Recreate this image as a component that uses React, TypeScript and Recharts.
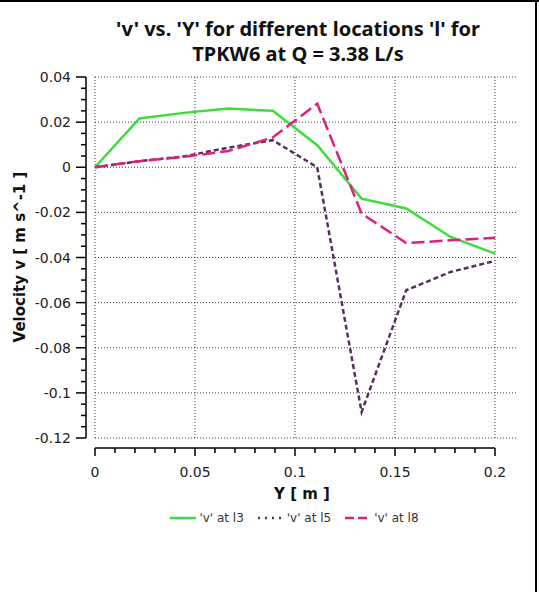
import React from 'react';
import { LineChart, Line, XAxis, YAxis, ReferenceLine, Legend } from 'recharts';

// Y position across the section [m]
const positions = [0, 0.0222, 0.0444, 0.0667, 0.0889, 0.1111, 0.1333, 0.1556, 0.1778, 0.2];
// v velocity [m/s] at locations l3, l5, l8
const vAtL3 = [0, 0.0216, 0.0241, 0.026, 0.025, 0.0098, -0.0139, -0.0183, -0.0309, -0.0383];
const vAtL5 = [0, 0.0027, 0.0048, 0.0087, 0.012, 0.0, -0.1085, -0.0545, -0.0464, -0.0415];
const vAtL8 = [0, 0.0027, 0.0046, 0.0072, 0.0132, 0.0282, -0.0205, -0.0336, -0.0324, -0.0313];

const xMajorTicks = [0, 0.05, 0.1, 0.15, 0.2];
const yMajorTicks = [0.04, 0.02, 0, -0.02, -0.04, -0.06, -0.08, -0.1, -0.12];
const xAllTicks = Array.from({ length: 21 }, (_, i) => +(i * 0.01).toFixed(3));
const yAllTicks = Array.from({ length: 33 }, (_, i) => +(-0.12 + i * 0.005).toFixed(3));

// axes sit a little away from the plot, grid runs a bit past 0.2
const X_MIN = -0.0045;
const X_MAX = 0.2115;
const Y_MIN = -0.12443;
const Y_MAX = 0.04;

const data = positions.map((y, i) => ({
  Y: y,
  l3: vAtL3[i],
  l5: vAtL5[i],
  l8: vAtL8[i],
}));

const TICK_FONT = 'DejaVu Sans';
const GRID = '#3a3a3a';

const isMajor = (v: number, step: number) => Math.abs(v / step - Math.round(v / step)) < 1e-6;

const XTick = ({ x, y, payload }: any) => {
  const major = isMajor(payload.value, 0.05);
  return (
    <g>
      <line x1={x} x2={x} y1={y} y2={y + (major ? 8 : 5)} stroke="#000" strokeWidth={1.5} />
      {major && (
        <text x={x} y={y + 29} textAnchor="middle" fontFamily={TICK_FONT} fontSize={14} fill="#222">
          {String(payload.value)}
        </text>
      )}
    </g>
  );
};

const YTick = ({ x, y, payload }: any) => {
  const major = isMajor(payload.value, 0.02);
  return (
    <g>
      <line x1={x - (major ? 10 : 5)} x2={x} y1={y} y2={y} stroke="#000" strokeWidth={1.5} />
      {major && (
        <text x={x - 15} y={y + 5} textAnchor="end" fontFamily={TICK_FONT} fontSize={14} fill="#222">
          {String(payload.value)}
        </text>
      )}
    </g>
  );
};

const renderLegend = (props: any) => (
  <div style={{ display: 'flex', justifyContent: 'center', alignItems: 'center', gap: 14 }}>
    {props.payload.map((entry: any) => (
      <span key={entry.value} style={{ display: 'flex', alignItems: 'center', fontFamily: TICK_FONT, fontSize: 12, color: '#333' }}>
        <svg width={26} height={8} style={{ marginRight: 3 }}>
          <line
            x1={0}
            x2={26}
            y1={4}
            y2={4}
            stroke={entry.color}
            strokeWidth={2.5}
            strokeDasharray={entry.payload?.legendDash}
          />
        </svg>
        {entry.value}
      </span>
    ))}
  </div>
);

export default function App() {
  return (
    <div style={{ position: 'relative', width: 539, height: 592, background: '#fff' }}>
      <style>{'body{margin:0}'}</style>
      <LineChart
        width={539}
        height={592}
        data={data}
        margin={{ top: 77, right: 21, bottom: 114, left: 26 }}
      >
        <XAxis
          dataKey="Y"
          type="number"
          domain={[X_MIN, X_MAX]}
          ticks={xAllTicks}
          interval={0}
          allowDataOverflow
          axisLine={false}
          tickLine={false}
          tickSize={0}
          tickMargin={0}
          height={30}
          tick={<XTick />}
        />
        <YAxis
          type="number"
          domain={[Y_MIN, Y_MAX]}
          ticks={yAllTicks}
          interval={0}
          allowDataOverflow
          axisLine={false}
          tickLine={false}
          tickSize={0}
          tickMargin={0}
          width={60}
          tick={<YTick />}
        />
        {yMajorTicks.map((v) => (
          <ReferenceLine
            key={`h${v}`}
            segment={[{ x: 0, y: v }, { x: X_MAX, y: v }]}
            stroke={GRID}
            strokeDasharray="1 2"
          />
        ))}
        {xMajorTicks.map((v) => (
          <ReferenceLine
            key={`v${v}`}
            segment={[{ x: v, y: -0.12 }, { x: v, y: 0.04 }]}
            stroke={GRID}
            strokeDasharray="1 2"
          />
        ))}
        <ReferenceLine segment={[{ x: 0, y: Y_MIN }, { x: 0.2, y: Y_MIN }]} stroke="#000" strokeWidth={1.5} />
        <ReferenceLine segment={[{ x: X_MIN, y: -0.12 }, { x: X_MIN, y: 0.04 }]} stroke="#000" strokeWidth={1.5} />
        <Line
          dataKey="l3"
          name="'v' at l3"
          type="linear"
          stroke="#3ddc3d"
          strokeWidth={2.5}
          dot={false}
          isAnimationActive={false}
        />
        <Line
          dataKey="l5"
          name="'v' at l5"
          type="linear"
          stroke="#54305f"
          strokeWidth={2.5}
          strokeDasharray="5 3"
          legendDash="2 5"
          dot={false}
          isAnimationActive={false}
        />
        <Line
          dataKey="l8"
          name="'v' at l8"
          type="linear"
          stroke="#e0207a"
          strokeWidth={2.5}
          strokeDasharray="13 5"
          legendDash="9 4"
          dot={false}
          isAnimationActive={false}
        />
        <Legend
          layout="horizontal"
          align="center"
          verticalAlign="middle"
          content={renderLegend}
          wrapperStyle={{ top: 511, left: 50, width: 489, height: 18 }}
        />
        <text x={298} y={36} textAnchor="middle" fontFamily="Noto Sans" fontWeight="bold" fontSize={20} fill="#111">
          'v' vs. 'Y' for different locations 'l' for
        </text>
        <text x={298} y={61} textAnchor="middle" fontFamily="Noto Sans" fontWeight="bold" fontSize={20} fill="#111">
          TPKW6 at Q = 3.38 L/s
        </text>
        <text x={302} y={499} textAnchor="middle" fontFamily={TICK_FONT} fontWeight="bold" fontSize={15} fill="#111">
          Y [ m ]
        </text>
        <text
          x={0}
          y={0}
          transform="translate(25 257) rotate(-90)"
          textAnchor="middle"
          fontFamily={TICK_FONT}
          fontWeight="bold"
          fontSize={15}
          fill="#111"
        >
          Velocity v [ m s^-1 ]
        </text>
      </LineChart>
      <div style={{ position: 'absolute', left: 0, top: 0, width: 539, height: 2, background: '#000' }} />
      <div style={{ position: 'absolute', left: 535, top: 0, width: 2, height: 592, background: '#000' }} />
    </div>
  );
}
